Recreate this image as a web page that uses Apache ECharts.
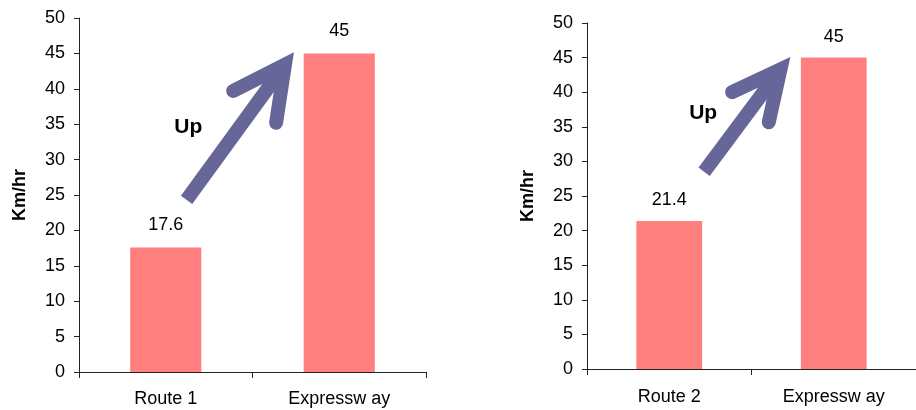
<!DOCTYPE html>
<html>
<head>
<meta charset="utf-8">
<script src="https://cdn.jsdelivr.net/npm/echarts@6/dist/echarts.min.js"></script>
<style>
  html, body { margin: 0; padding: 0; background: #fff; }
  #chart { width: 916px; height: 410px; }
</style>
</head>
<body>
<div id="chart"></div>
<script>
// Average speed: ordinary route vs expressway, two panels
const leftCategories = ['Route 1', 'Expressw ay'];
const leftValues = [17.6, 45];
const rightCategories = ['Route 2', 'Expressw ay'];
const rightValues = [21.4, 45];
const yTicks = { min: 0, max: 50, interval: 5 };
const yName = 'Km/hr';
const arrowText = 'Up';

// "Up" arrow annotations in data space: [category position, value]
// points: tail, tip, barb A, barb B
const leftArrow = { tail: [0.12, 24.3], tip: [0.687, 43.4], barbA: [0.388, 39.7], barbB: [0.636, 35.2], label: [0.13, 34.6] };
const rightArrow = { tail: [0.212, 28.5], tip: [0.676, 43.3], barbA: [0.382, 40.0], barbB: [0.605, 35.65], label: [0.206, 37.0] };

const FONT = 'Liberation Sans, Arial, sans-serif';
const BAR_COLOR = '#FF7F7F';
const ARROW_COLOR = '#666699';

function xAxisFor(gridIndex, cats, margin) {
  return {
    type: 'category', gridIndex: gridIndex, data: cats,
    axisLine: { lineStyle: { color: '#222', width: 1 } },
    axisTick: { show: true, length: 6, alignWithLabel: false, lineStyle: { color: '#222' } },
    axisLabel: { color: '#000', fontSize: 18, fontFamily: FONT, margin: margin },
    splitLine: { show: false }
  };
}
function yAxisFor(gridIndex) {
  return {
    type: 'value', gridIndex: gridIndex, min: yTicks.min, max: yTicks.max, interval: yTicks.interval,
    name: yName, nameLocation: 'middle', nameRotate: 90, nameGap: 50,
    nameTextStyle: { color: '#000', fontSize: 18, fontWeight: 'bold', fontFamily: FONT },
    axisLine: { show: true, lineStyle: { color: '#222', width: 1 } },
    axisTick: { show: true, length: 5, lineStyle: { color: '#222' } },
    axisLabel: { color: '#000', fontSize: 18, fontFamily: FONT, margin: 14 },
    splitLine: { show: false }
  };
}
function barSeries(idx, values, width, dist) {
  return {
    type: 'bar', xAxisIndex: idx, yAxisIndex: idx, data: values, barWidth: width,
    itemStyle: { color: BAR_COLOR },
    label: { show: true, position: 'top', distance: dist, color: '#000', fontSize: 18, fontFamily: FONT },
    silent: true
  };
}

const chart = echarts.init(document.getElementById('chart'), null, { renderer: 'canvas' });
chart.setOption({
  animation: false,
  backgroundColor: '#fff',
  grid: [
    { left: 79, top: 18, width: 347, bottom: 38 },
    { left: 587, top: 23, width: 341, bottom: 41 }
  ],
  xAxis: [xAxisFor(0, leftCategories, 18), xAxisFor(1, rightCategories, 19)],
  yAxis: [yAxisFor(0), yAxisFor(1)],
  series: [barSeries(0, leftValues, '41%', 13), barSeries(1, rightValues, '40%', 12)]
});

// map [category position, value] to pixels on panel idx
function toPx(idx, p) {
  const x0 = chart.convertToPixel({ xAxisIndex: idx }, 0);
  const x1 = chart.convertToPixel({ xAxisIndex: idx }, 1);
  const y = chart.convertToPixel({ yAxisIndex: idx }, p[1]);
  return [x0 + (x1 - x0) * p[0], y];
}
function arrowGraphics(idx, a) {
  const tail = toPx(idx, a.tail), tip = toPx(idx, a.tip);
  const ba = toPx(idx, a.barbA), bb = toPx(idx, a.barbB);
  const lbl = toPx(idx, a.label);
  // stop the shaft just short of the tip so the mitred head forms the point
  const dx = tip[0] - tail[0], dy = tip[1] - tail[1];
  const len = Math.hypot(dx, dy);
  const shaftEnd = [tip[0] - dx / len * 6, tip[1] - dy / len * 6];
  return [
    { type: 'polyline', silent: true, shape: { points: [tail, shaftEnd] },
      style: { stroke: ARROW_COLOR, lineWidth: 14, lineCap: 'butt', fill: null } },
    { type: 'polyline', silent: true, shape: { points: [ba, tip, bb] },
      style: { stroke: ARROW_COLOR, lineWidth: 14, lineCap: 'round', lineJoin: 'miter', miterLimit: 10, fill: null } },
    { type: 'text', silent: true, x: lbl[0], y: lbl[1],
      style: { text: arrowText, fill: '#000', font: 'bold 21px ' + FONT, align: 'center', verticalAlign: 'middle' } }
  ];
}
chart.setOption({ graphic: arrowGraphics(0, leftArrow).concat(arrowGraphics(1, rightArrow)) });
</script>
</body>
</html>
